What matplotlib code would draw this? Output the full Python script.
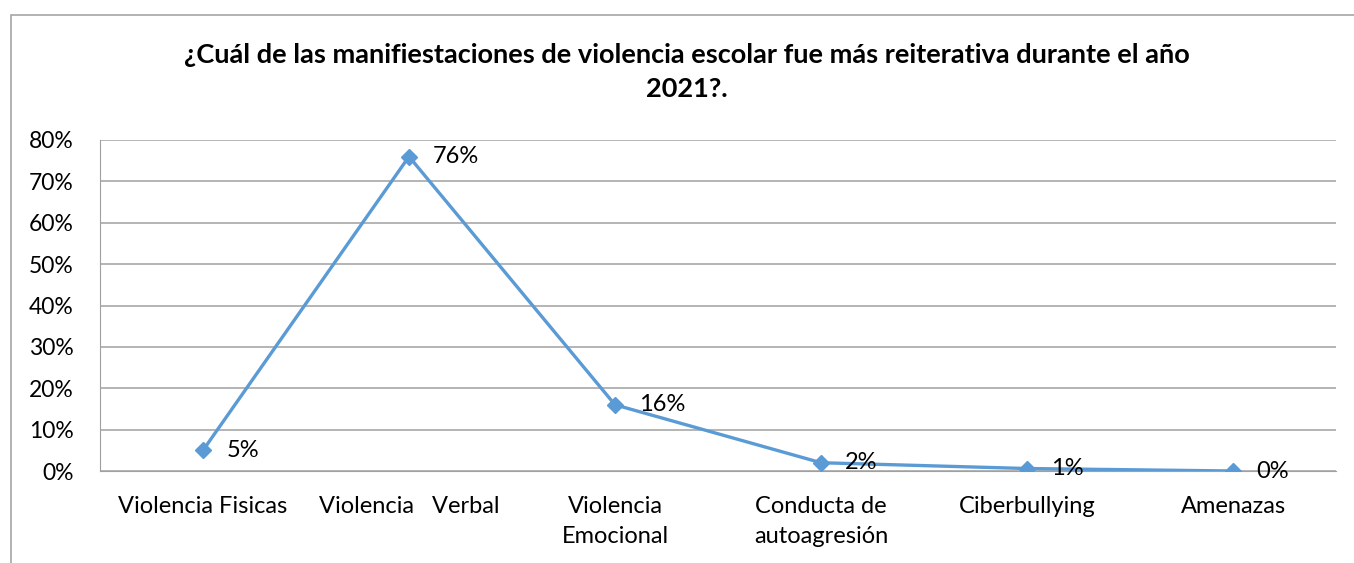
import matplotlib.pyplot as plt
from matplotlib.patches import Rectangle

# data
categories = ["Violencia Fisicas", "Violencia   Verbal", "Violencia\nEmocional",
              "Conducta de\nautoagresión", "Ciberbullying", "Amenazas"]
values = [5, 76, 16, 2, 0.6, 0]
labels = ["5%", "76%", "16%", "2%", "1%", "0%"]
yticks = [0, 10, 20, 30, 40, 50, 60, 70, 80]

plt.rcParams['font.family'] = ['Lato', 'DejaVu Sans']

fig = plt.figure(figsize=(13.54, 5.63), dpi=100)
ax = fig.add_axes([100 / 1354, 1 - 471 / 563, 1236 / 1354, 331 / 563])

# outer chart border (cut off right and bottom like the reference)
fig.patches.append(Rectangle((11 / 1354, -0.2), 2.0, 0.2 + 1 - 15 / 563,
                             transform=fig.transFigure, fill=False,
                             edgecolor='#A6A6A6', linewidth=1.2))

x = list(range(len(categories)))
ax.plot(x, values, color='#5B9BD5', linewidth=2.4, marker='D',
        markersize=8, zorder=3)

for xi, v, lab in zip(x, values, labels):
    ax.annotate(lab, (xi, v), xytext=(17, 0), textcoords='offset points',
                ha='left', va='center', fontsize=17, color='black')

ax.set_xlim(-0.5, 5.5)
ax.set_ylim(0, 80)
ax.set_yticks(yticks)
ax.set_yticklabels([f"{t}%" for t in yticks], fontsize=16.5)
ax.set_xticks(x)
ax.set_xticklabels(categories, fontsize=17, linespacing=1.55, va='top')
ax.tick_params(axis='y', length=0, pad=19)
ax.tick_params(axis='x', length=0, pad=18)

ax.grid(axis='y', color='#A0A0A0', linewidth=1.1)
ax.set_axisbelow(True)
for s in ['top', 'right']:
    ax.spines[s].set_visible(False)
ax.spines['left'].set_color('#A0A0A0')
ax.spines['bottom'].set_color('#A0A0A0')

fig.text(687 / 1354, 1 - 55 / 563,
         "¿Cuál de las manifiestaciones de violencia escolar fue más reiterativa durante el año",
         ha='center', va='center', fontsize=19.5, fontweight='bold')
fig.text(687 / 1354, 1 - 89 / 563, "2021?.",
         ha='center', va='center', fontsize=19.5, fontweight='bold')

fig.savefig("out.png", dpi=100)
